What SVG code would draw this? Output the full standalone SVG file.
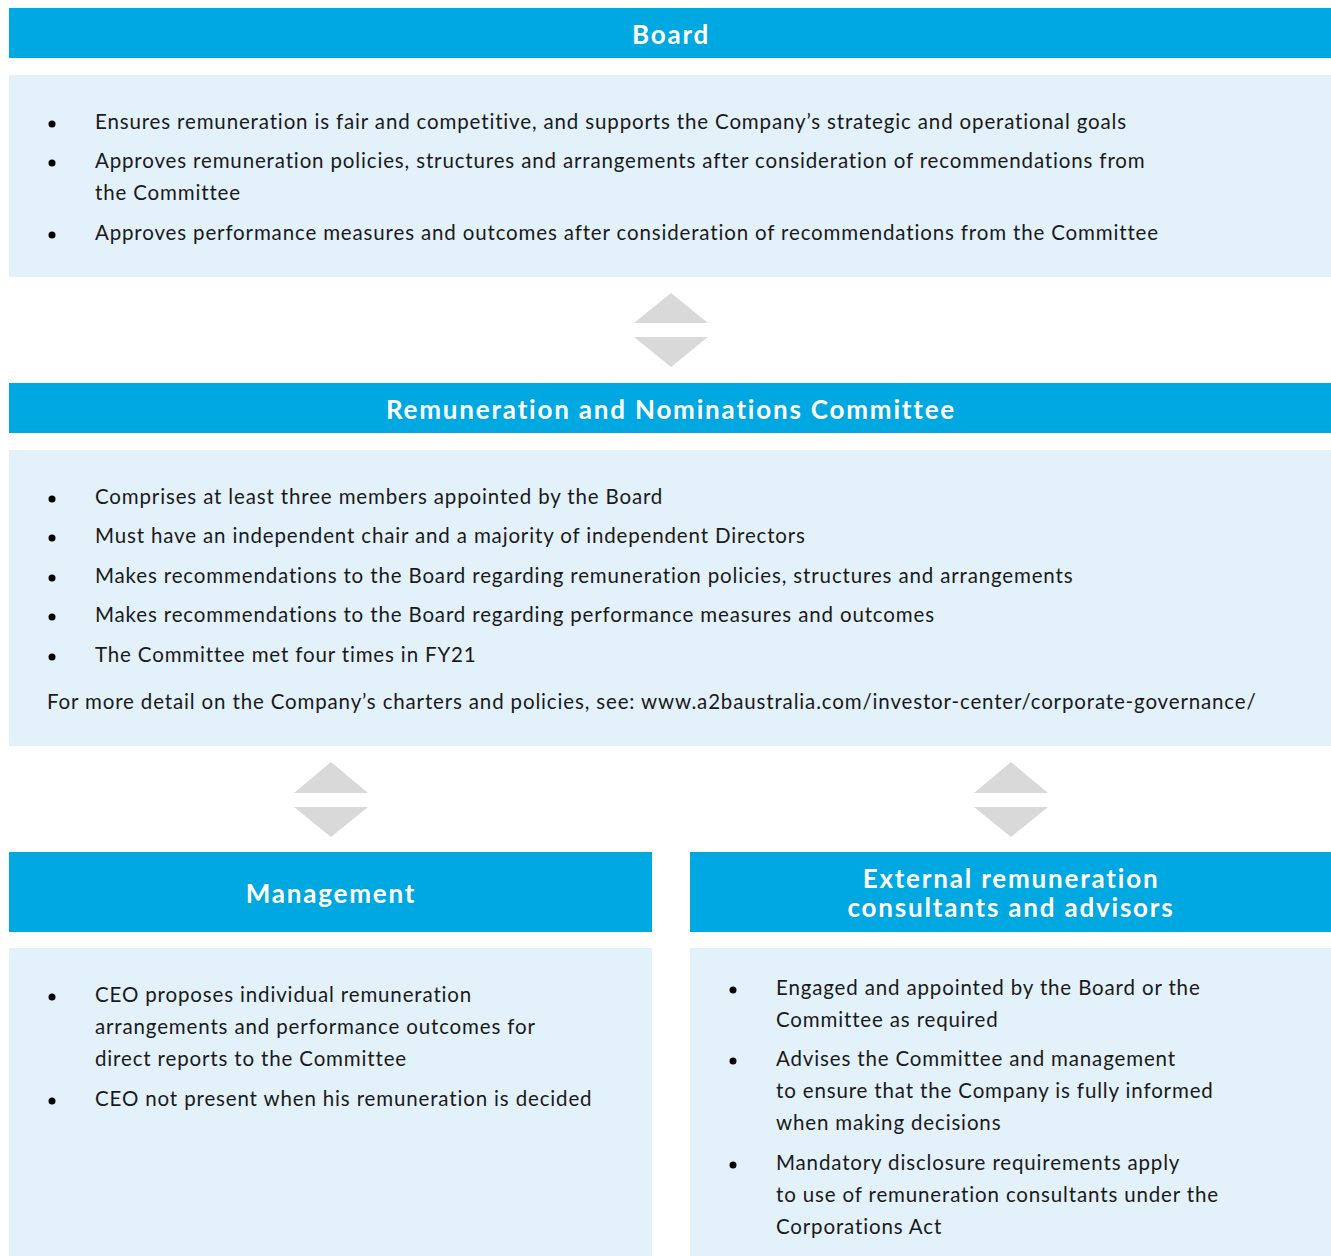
<svg xmlns="http://www.w3.org/2000/svg" width="1331" height="1256" viewBox="0 0 1331 1256">
<defs>
<style>
.hdr{fill:#00A8E1}
.body{fill:#E3F1FB}
.arr{fill:#D9D9D9}
.ht{font-family:Lato,"Noto Sans",sans-serif;font-weight:700;font-size:26px;fill:#fff;text-anchor:middle;letter-spacing:1.8px}
.t{font-family:Lato,"Noto Sans",sans-serif;font-size:20.5px;fill:#1a1a1a;letter-spacing:0.85px}
.b{fill:#000}
</style>
</defs>
<g id="connectors">
<polygon class="arr" points="671,293 708,323 634,323"/>
<polygon class="arr" points="634,337 708,337 671,367"/>
<polygon class="arr" points="331,762 368,793 294,793"/>
<polygon class="arr" points="294,807 368,807 331,837"/>
<polygon class="arr" points="1011,762 1048,793 974,793"/>
<polygon class="arr" points="974,807 1048,807 1011,837"/>
</g>
<g id="board">
<rect class="hdr" x="9" y="8" width="1322" height="50"/>
<text class="ht" x="671" y="44">Board</text>
<rect class="body" x="9" y="75" width="1322" height="202"/>
<circle class="b" cx="52" cy="124" r="3.5"/>
<text class="t" x="95" y="129">Ensures remuneration is fair and competitive, and supports the Company’s strategic and operational goals</text>
<circle class="b" cx="52" cy="163" r="3.5"/>
<text class="t" x="95" y="168">Approves remuneration policies, structures and arrangements after consideration of recommendations from</text>
<text class="t" x="95" y="200">the Committee</text>
<circle class="b" cx="52" cy="235" r="3.5"/>
<text class="t" x="95" y="240">Approves performance measures and outcomes after consideration of recommendations from the Committee</text>
</g>
<g id="committee">
<rect class="hdr" x="9" y="383" width="1322" height="50"/>
<text class="ht" x="671" y="419">Remuneration and Nominations Committee</text>
<rect class="body" x="9" y="450" width="1322" height="296"/>
<circle class="b" cx="52" cy="499" r="3.5"/>
<text class="t" x="95" y="504">Comprises at least three members appointed by the Board</text>
<circle class="b" cx="52" cy="538" r="3.5"/>
<text class="t" x="95" y="543">Must have an independent chair and a majority of independent Directors</text>
<circle class="b" cx="52" cy="578" r="3.5"/>
<text class="t" x="95" y="583">Makes recommendations to the Board regarding remuneration policies, structures and arrangements</text>
<circle class="b" cx="52" cy="617" r="3.5"/>
<text class="t" x="95" y="622">Makes recommendations to the Board regarding performance measures and outcomes</text>
<circle class="b" cx="52" cy="657" r="3.5"/>
<text class="t" x="95" y="662">The Committee met four times in FY21</text>
<text class="t" x="47" y="709">For more detail on the Company’s charters and policies, see: www.a2baustralia.com/investor-center/corporate-governance/</text>
</g>
<g id="management">
<rect class="hdr" x="9" y="852" width="643" height="80"/>
<text class="ht" x="331" y="903">Management</text>
<rect class="body" x="9" y="948" width="643" height="308"/>
<circle class="b" cx="52" cy="997" r="3.5"/>
<text class="t" x="95" y="1002">CEO proposes individual remuneration</text>
<text class="t" x="95" y="1034">arrangements and performance outcomes for</text>
<text class="t" x="95" y="1066">direct reports to the Committee</text>
<circle class="b" cx="52" cy="1101" r="3.5"/>
<text class="t" x="95" y="1106">CEO not present when his remuneration is decided</text>
</g>
<g id="external">
<rect class="hdr" x="690" y="852" width="641" height="80"/>
<text class="ht" x="1011" y="888">External remuneration</text>
<text class="ht" x="1011" y="917">consultants and advisors</text>
<rect class="body" x="690" y="948" width="641" height="308"/>
<circle class="b" cx="733" cy="990" r="3.5"/>
<text class="t" x="776" y="995">Engaged and appointed by the Board or the</text>
<text class="t" x="776" y="1027">Committee as required</text>
<circle class="b" cx="733" cy="1061" r="3.5"/>
<text class="t" x="776" y="1066">Advises the Committee and management</text>
<text class="t" x="776" y="1098">to ensure that the Company is fully informed</text>
<text class="t" x="776" y="1130">when making decisions</text>
<circle class="b" cx="733" cy="1165" r="3.5"/>
<text class="t" x="776" y="1170">Mandatory disclosure requirements apply</text>
<text class="t" x="776" y="1202">to use of remuneration consultants under the</text>
<text class="t" x="776" y="1234">Corporations Act</text>
</g>
</svg>
